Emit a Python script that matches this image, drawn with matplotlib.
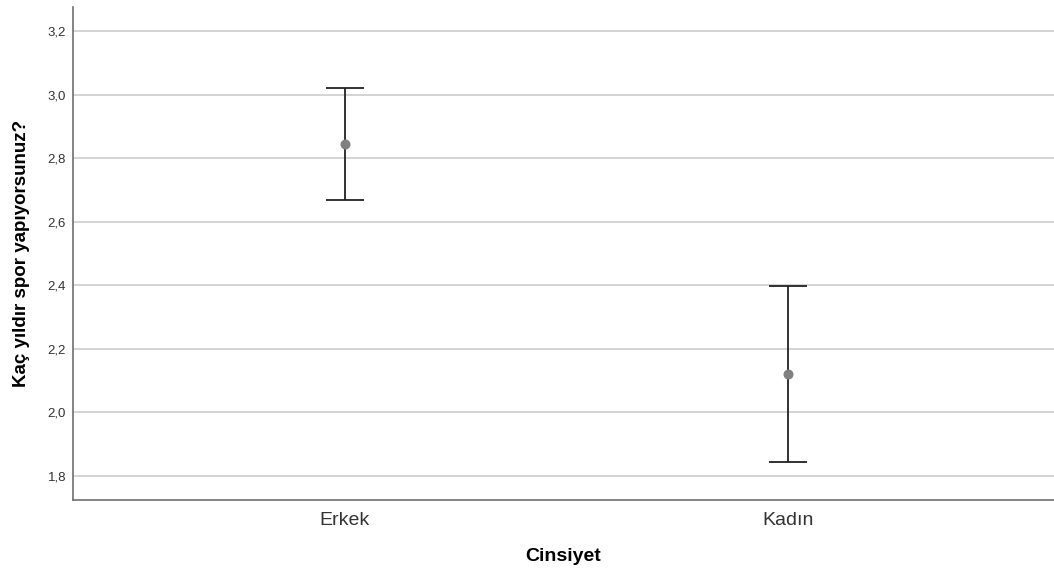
import matplotlib
matplotlib.use("Agg")
import matplotlib.pyplot as plt
from matplotlib.ticker import FuncFormatter

plt.rcParams['font.family'] = ['Liberation Sans', 'DejaVu Sans']

categories = ["Erkek", "Kadın"]
means = [2.844, 2.121]
upper = [3.021, 2.399]
lower = [2.668, 1.844]
yticks = [1.8, 2.0, 2.2, 2.4, 2.6, 2.8, 3.0, 3.2]

fig = plt.figure(figsize=(10.54, 5.70), dpi=100)
ax = fig.add_axes([73/1054, 70/570, 1 - 73/1054, (500-7)/570])

x = list(range(len(categories)))
err_lo = [m - l for m, l in zip(means, lower)]
err_hi = [u - m for m, u in zip(means, upper)]
ax.errorbar(x, means, yerr=[err_lo, err_hi], fmt='none', ecolor='#222222',
            elinewidth=1.3, capsize=14, capthick=1.3, zorder=3)
ax.plot(x, means, 'o', color='#808080', markersize=6.2, zorder=4)

ax.set_xlim(-0.613, 1.601)
ax.set_ylim(1.7234, 3.277)
ax.set_yticks(yticks)
ax.yaxis.set_major_formatter(FuncFormatter(lambda v, p: f"{v:.1f}".replace('.', ',')))
ax.set_xticks(x)
ax.set_xticklabels(categories)
ax.grid(axis='y', color='#cccccc', linewidth=1.2, zorder=0)
ax.set_axisbelow(True)

for s in ['top', 'right']:
    ax.spines[s].set_visible(False)
for s in ['left', 'bottom']:
    ax.spines[s].set_color('#707070')
    ax.spines[s].set_linewidth(1.2)

ax.tick_params(axis='y', length=0, labelsize=9.5, labelcolor='#333333', pad=5)
ax.tick_params(axis='x', length=0, labelsize=14, labelcolor='#333333', pad=8.5)

ax.set_ylabel("Kaç yıldır spor yapıyorsunuz?", fontsize=13.5, fontweight='bold', va='center')
ax.yaxis.set_label_coords(-0.052, 0.5)
ax.set_xlabel("Cinsiyet", fontsize=14, fontweight='bold', va='center')
ax.xaxis.set_label_coords(0.5, -0.1155)

fig.savefig("out.png", dpi=100)
